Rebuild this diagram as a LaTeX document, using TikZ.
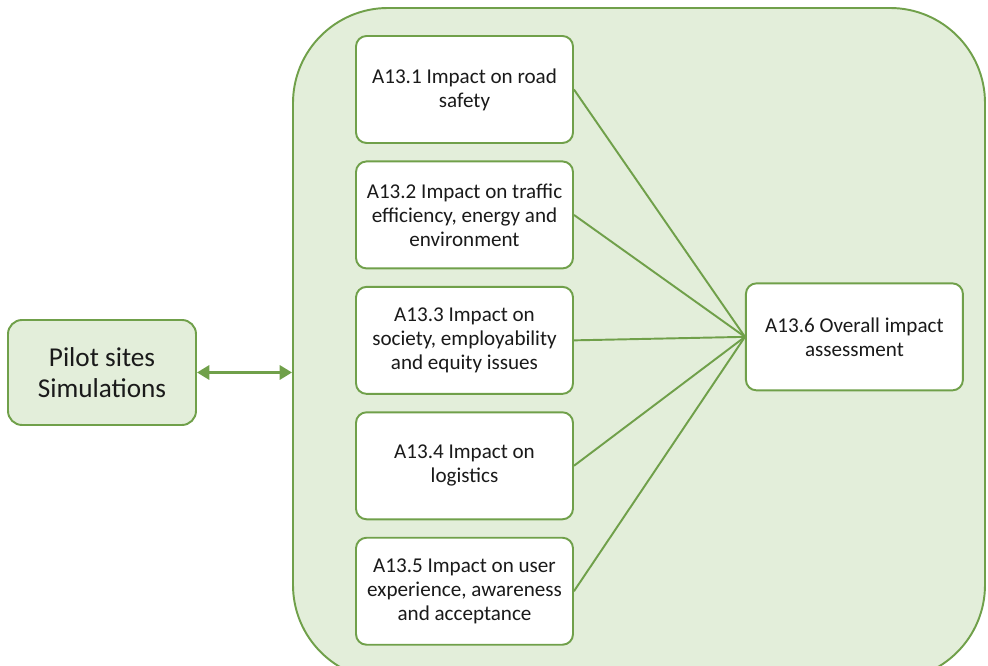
\documentclass[tikz,border=0pt]{standalone}
\usepackage{fontspec}
\setmainfont{Carlito}
\usepackage{tikz}
\usetikzlibrary{positioning, arrows.meta}
\definecolor{leafGreen}{HTML}{70A04A}
\definecolor{paleGreen}{HTML}{E3EEDA}
\definecolor{inkGrey}{HTML}{1A1A1A}

\tikzset{
  taskbox/.style={
    draw=leafGreen,
    fill=white,
    line width=1.1pt,
    rounded corners=6pt,
    minimum width=4.34cm,
    minimum height=2.14cm,
    align=center,
    text=inkGrey,
    font=\fontsize{12}{13.6}\selectfont
  }
}

\begin{document}
\begin{tikzpicture}
\useasboundingbox (0,0) rectangle (19.76,-13.32);

% green panel behind the tasks
\node[
  draw=leafGreen,
  fill=paleGreen,
  line width=1.1pt,
  rounded corners=1.9cm,
  minimum width=13.84cm,
  minimum height=13.44cm
] (panel) at (12.78,-6.88) {};

\node[
  draw=leafGreen,
  fill=paleGreen,
  line width=1.1pt,
  rounded corners=8pt,
  minimum width=3.76cm,
  minimum height=2.1cm,
  align=center,
  text=inkGrey,
  font=\fontsize{15.5}{17.5}\selectfont
] (pilot) at (2.04,-7.45)
{Pilot sites\\
Simulations};

\node[taskbox] (safety) at (9.29,-1.79)
{A13.1 Impact on road\\ safety};
\node[taskbox, below=0.33cm of safety] (traffic)
{A13.2 Impact on traffic\\ efficiency, energy and\\ environment};
\node[taskbox, below=0.33cm of traffic] (society)
{A13.3 Impact on\\ society, employability\\ and equity issues};
\node[taskbox, below=0.33cm of society] (logistics)
{A13.4 Impact on\\ logistics};
\node[taskbox, below=0.33cm of logistics] (user)
{A13.5 Impact on user\\ experience, awareness\\ and acceptance};

\node[taskbox, right=3.42cm of society, yshift=0.07cm] (overall)
{A13.6 Overall impact\\ assessment};

\foreach \t in {safety, traffic, society, logistics, user}
  \draw[leafGreen, line width=1.1pt] (\t.east) -- (overall.west);

\draw[{Triangle[length=7pt, width=8pt]}-{Triangle[length=7pt, width=8pt]},
  leafGreen, line width=1.6pt]
(pilot.east) -- (pilot.east -| panel.west);

\end{tikzpicture}
\end{document}
